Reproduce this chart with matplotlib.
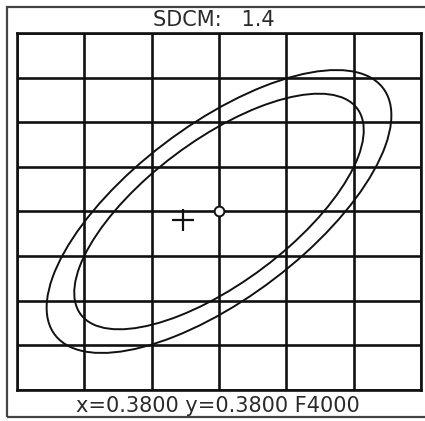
import matplotlib.pyplot as plt
import numpy as np
from matplotlib.patches import Ellipse, Rectangle

# chromaticity window shown by the grid (x, y)
x_ticks = [0.35, 0.36, 0.37, 0.38, 0.39, 0.40, 0.41]
y_ticks = [0.34, 0.35, 0.36, 0.37, 0.38, 0.39, 0.40, 0.41, 0.42]

# target point and measured point
target_xy = (0.3800, 0.3800)
measured_xy = (0.3746, 0.3782)

# ellipses: half extent in x, half extent in y, correlation
ell_sx = [0.0256, 0.0215]
ell_sy = [0.0317, 0.0264]
ell_rho = [0.68, 0.69]

sdcm = 1.4
cct_label = 'F4000'


def ellipse_patch(center, sx, sy, rho):
    cov = np.array([[sx * sx, rho * sx * sy], [rho * sx * sy, sy * sy]])
    vals, vecs = np.linalg.eigh(cov)
    ang = np.degrees(np.arctan2(vecs[1, 1], vecs[0, 1]))
    return Ellipse(center, 2 * np.sqrt(vals[1]), 2 * np.sqrt(vals[0]), angle=ang,
                   fill=False, edgecolor='#111111', linewidth=1.4)


fig = plt.figure(figsize=(4.25, 4.21), dpi=100)
fig.patches.append(Rectangle((7 / 425, 4 / 421), 422 / 425, 410 / 421,
                             transform=fig.transFigure, fill=False,
                             edgecolor='#444444', linewidth=1.6))

ax = fig.add_axes([17 / 425, 31 / 421, 404 / 425, 357 / 421])
ax.set_xlim(x_ticks[0], x_ticks[-1])
ax.set_ylim(y_ticks[0], y_ticks[-1])
ax.set_xticks(x_ticks)
ax.set_yticks(y_ticks)
ax.tick_params(length=0, labelbottom=False, labelleft=False)
ax.grid(True, color='#111111', linewidth=1.9)
for s in ax.spines.values():
    s.set_color('#111111')
    s.set_linewidth(1.9)

for sx, sy, rho in zip(ell_sx, ell_sy, ell_rho):
    ax.add_patch(ellipse_patch(target_xy, sx, sy, rho))

ax.plot(*measured_xy, marker='+', markersize=16, markeredgewidth=1.6,
        color='#111111', linestyle='none')
ax.plot(*target_xy, marker='o', markersize=7, markerfacecolor='white',
        markeredgecolor='#111111', markeredgewidth=1.4, linestyle='none', zorder=5)

fig.text(214 / 425, 1 - 20 / 421, 'SDCM:   %.1f' % sdcm, ha='center', va='center',
         fontsize=15, color='#2a2a2a')
fig.text(218 / 425, 1 - 406 / 421,
         'x=%.4f y=%.4f %s' % (target_xy[0], target_xy[1], cct_label),
         ha='center', va='center', fontsize=15, color='#2a2a2a')

fig.savefig('out.png', dpi=100)
